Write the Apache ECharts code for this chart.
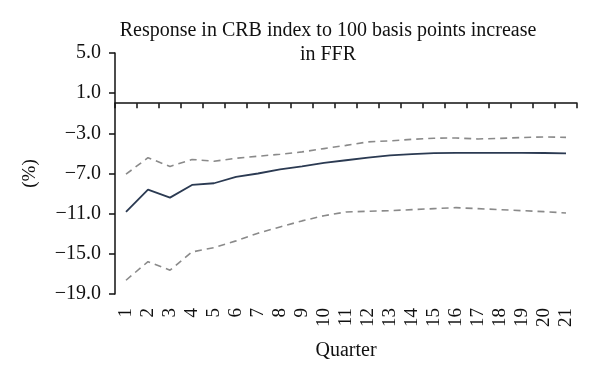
<!DOCTYPE html>
<html>
<head>
<meta charset="utf-8">
<script src="https://cdn.jsdelivr.net/npm/echarts@6/dist/echarts.min.js"></script>
<style>
html,body{margin:0;padding:0;background:#fff;}
#chart{width:600px;height:383px;}
</style>
</head>
<body>
<div id="chart"></div>
<script>
var categories = ['1','2','3','4','5','6','7','8','9','10','11','12','13','14','15','16','17','18','19','20','21'];
var response = [-10.83,-8.6,-9.4,-8.14,-7.97,-7.34,-7.0,-6.6,-6.28,-5.95,-5.68,-5.42,-5.2,-5.08,-4.98,-4.95,-4.95,-4.95,-4.95,-4.96,-5.0];
var upperBand = [-7.07,-5.42,-6.3,-5.6,-5.78,-5.48,-5.28,-5.08,-4.85,-4.52,-4.2,-3.85,-3.75,-3.6,-3.49,-3.46,-3.56,-3.5,-3.42,-3.36,-3.4];
var lowerBand = [-17.63,-15.78,-16.63,-14.81,-14.38,-13.71,-12.95,-12.32,-11.72,-11.2,-10.83,-10.76,-10.7,-10.6,-10.5,-10.4,-10.5,-10.6,-10.7,-10.8,-10.93];
var yTicks = [-19,-15,-11,-7,-3,1,5];
var titleText = 'Response in CRB index to 100 basis points increase\nin FFR';

var serif = '"Liberation Serif", "DejaVu Serif", serif';
var chart = echarts.init(document.getElementById('chart'));
var dashStyle = {color:'#8a8a8a', width:1.6, type:[7,5]};
chart.setOption({
  backgroundColor:'#ffffff',
  animation:false,
  title:{
    text:titleText,
    left:323, top:14, textAlign:'center',
    textStyle:{fontFamily:serif, fontSize:20, fontWeight:'normal', color:'#111', lineHeight:24}
  },
  grid:{left:115, right:23, top:53, bottom:89},
  xAxis:[{
    type:'category', data:categories, boundaryGap:true,
    axisLine:{onZero:true, lineStyle:{color:'#111', width:1.5}},
    axisTick:{show:true, length:5, lineStyle:{color:'#111', width:1.5}},
    axisLabel:{show:false},
    splitLine:{show:false}
  },{
    type:'category', data:categories, position:'bottom', boundaryGap:true,
    axisLine:{show:false, onZero:false},
    axisTick:{show:false},
    axisLabel:{show:true, interval:0, rotate:90, margin:14,
      fontFamily:serif, fontSize:19, color:'#111'},
    name:'Quarter', nameLocation:'middle', nameGap:47,
    nameTextStyle:{fontFamily:serif, fontSize:20, color:'#111'},
    splitLine:{show:false}
  }],
  yAxis:{
    type:'value', min:-19, max:5,
    axisLine:{show:true, lineStyle:{color:'#111', width:1.5}},
    axisTick:{show:true, length:6, customValues:yTicks, lineStyle:{color:'#111', width:1.5}},
    axisLabel:{customValues:yTicks, margin:14, fontFamily:serif, fontSize:20, color:'#111',
      formatter:function(v){return v.toFixed(1).replace('-', '\u2212');}},
    splitLine:{show:false},
    name:'(%)', nameLocation:'middle', nameGap:75,
    nameTextStyle:{fontFamily:serif, fontSize:19, color:'#111'}
  },
  series:[
    {type:'line', data:upperBand, xAxisIndex:0, symbol:'none', lineStyle:dashStyle, z:2},
    {type:'line', data:lowerBand, xAxisIndex:0, symbol:'none', lineStyle:dashStyle, z:2},
    {type:'line', data:response, xAxisIndex:0, symbol:'none', lineStyle:{color:'#2b3a52', width:1.8}, z:3}
  ]
});
</script>
</body>
</html>
